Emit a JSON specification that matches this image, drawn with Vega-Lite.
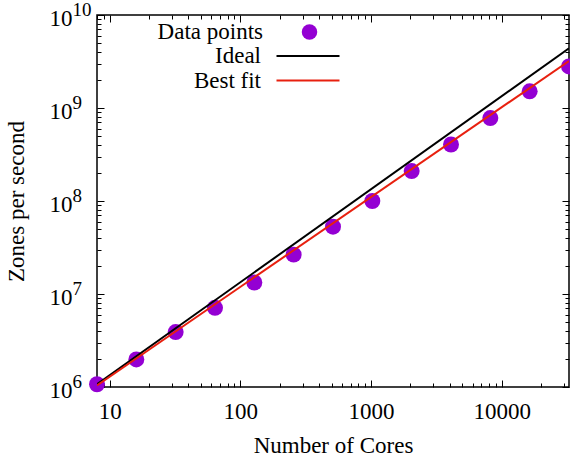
{
  "$schema": "https://vega.github.io/schema/vega-lite/v6.json",
  "width": 472,
  "height": 372,
  "autosize": {"type": "none"},
  "padding": {"left": 97, "top": 15, "right": 1, "bottom": 77},
  "background": "white",
  "config": {
    "font": "Liberation Serif",
    "view": {"stroke": "black", "strokeWidth": 1.5},
    "axis": {
      "grid": false,
      "domain": false,
      "tickColor": "black",
      "tickWidth": 1,
      "labelColor": "black",
      "labelFont": "Liberation Serif",
      "labelFontSize": 23,
      "titleFont": "Liberation Serif",
      "titleFontSize": 23,
      "titleFontWeight": "normal",
      "titleColor": "black",
      "labelOverlap": false,
      "labelBound": false,
      "labelFlush": false
    },
    "legend": {
      "labelFont": "Liberation Serif",
      "labelFontSize": 23,
      "labelColor": "black"
    }
  },
  "datasets": {
    "points": [
      {"cores": 8, "zps": 1.07e6, "series": "Data points"},
      {"cores": 16, "zps": 1.98e6, "series": "Data points"},
      {"cores": 32, "zps": 3.9e6, "series": "Data points"},
      {"cores": 64, "zps": 7.1e6, "series": "Data points"},
      {"cores": 128, "zps": 1.33e7, "series": "Data points"},
      {"cores": 256, "zps": 2.65e7, "series": "Data points"},
      {"cores": 512, "zps": 5.3e7, "series": "Data points"},
      {"cores": 1024, "zps": 1.0e8, "series": "Data points"},
      {"cores": 2048, "zps": 2.1e8, "series": "Data points"},
      {"cores": 4096, "zps": 4.05e8, "series": "Data points"},
      {"cores": 8192, "zps": 7.8e8, "series": "Data points"},
      {"cores": 16384, "zps": 1.51e9, "series": "Data points"},
      {"cores": 32768, "zps": 2.8e9, "series": "Data points"}
    ],
    "lines": [
      {"series": "Ideal", "cores": 8, "zps": 1.07e6},
      {"series": "Ideal", "cores": 32768, "zps": 4.38e9},
      {"series": "Best fit", "cores": 8, "zps": 1.04e6},
      {"series": "Best fit", "cores": 32768, "zps": 3.2e9}
    ]
  },
  "layer": [
    {
      "data": {"name": "points"},
      "mark": {"type": "circle", "size": 255, "opacity": 1},
      "encoding": {
        "x": {
          "field": "cores", "type": "quantitative",
          "scale": {"type": "log", "domain": [8, 32768], "nice": false},
          "axis": {
            "orient": "bottom",
            "title": "Number of Cores",
            "titleX": 236, "titleY": 58, "titleBaseline": "middle", "titleAlign": "center",
            "values": [8, 9, 10, 20, 30, 40, 50, 60, 70, 80, 90, 100, 200, 300, 400, 500, 600, 700, 800, 900, 1000, 2000, 3000, 4000, 5000, 6000, 7000, 8000, 9000, 10000, 20000, 30000],
            "labelExpr": "indexof([10, 100, 1000, 10000], datum.value) >= 0 ? format(datum.value, 'd') : ''",
            "tickSize": {"condition": {"test": "indexof([10, 100, 1000, 10000], datum.value) >= 0", "value": -7}, "value": -4},
            "labelPadding": 20
          }
        },
        "y": {
          "field": "zps", "type": "quantitative",
          "scale": {"type": "log", "domain": [1e6, 1e10], "nice": false},
          "axis": {
            "orient": "left",
            "title": "Zones per second",
            "titleX": -81, "titleY": 186, "titleAngle": -90, "titleBaseline": "middle", "titleAlign": "center",
            "values": [1e6, 2e6, 3e6, 4e6, 5e6, 6e6, 7e6, 8e6, 9e6, 1e7, 2e7, 3e7, 4e7, 5e7, 6e7, 7e7, 8e7, 9e7, 1e8, 2e8, 3e8, 4e8, 5e8, 6e8, 7e8, 8e8, 9e8, 1e9, 2e9, 3e9, 4e9, 5e9, 6e9, 7e9, 8e9, 9e9, 1e10],
            "labelExpr": "indexof([1e6, 1e7, 1e8, 1e9, 1e10], datum.value) >= 0 ? '10' : ''",
            "labelAlign": "right",
            "labelBaseline": "middle",
            "labelOffset": 3,
            "tickSize": {"condition": {"test": "indexof([1e6, 1e7, 1e8, 1e9, 1e10], datum.value) >= 0", "value": -7}, "value": -4},
            "labelPadding": 32
          }
        },
        "color": {
          "field": "series", "type": "nominal",
          "scale": {"domain": ["Data points"], "range": ["#9400d3"]},
          "legend": {
            "title": null,
            "orient": "none",
            "legendX": 201,
            "legendY": 5.5,
            "padding": 0,
            "labelAlign": "right",
            "labelOffset": -58,
            "symbolType": "circle",
            "symbolSize": 240,
            "symbolStrokeWidth": 0,
            "symbolOpacity": 1
          }
        }
      }
    },
    {
      "data": {"name": "lines"},
      "mark": {"type": "line", "strokeWidth": 2, "clip": true},
      "encoding": {
        "x": {
          "field": "cores", "type": "quantitative",
          "scale": {"type": "log", "domain": [8, 32768], "nice": false},
          "axis": {
            "orient": "top",
            "title": null,
            "labels": false,
            "values": [8, 9, 10, 20, 30, 40, 50, 60, 70, 80, 90, 100, 200, 300, 400, 500, 600, 700, 800, 900, 1000, 2000, 3000, 4000, 5000, 6000, 7000, 8000, 9000, 10000, 20000, 30000],
            "tickSize": {"condition": {"test": "indexof([10, 100, 1000, 10000], datum.value) >= 0", "value": -7}, "value": -4}
          }
        },
        "y": {
          "field": "zps", "type": "quantitative",
          "scale": {"type": "log", "domain": [1e6, 1e10], "nice": false},
          "axis": {
            "orient": "right",
            "title": null,
            "labels": false,
            "values": [1e6, 2e6, 3e6, 4e6, 5e6, 6e6, 7e6, 8e6, 9e6, 1e7, 2e7, 3e7, 4e7, 5e7, 6e7, 7e7, 8e7, 9e7, 1e8, 2e8, 3e8, 4e8, 5e8, 6e8, 7e8, 8e8, 9e8, 1e9, 2e9, 3e9, 4e9, 5e9, 6e9, 7e9, 8e9, 9e9, 1e10],
            "tickSize": {"condition": {"test": "indexof([1e6, 1e7, 1e8, 1e9, 1e10], datum.value) >= 0", "value": -7}, "value": -4}
          }
        },
        "stroke": {
          "field": "series", "type": "nominal",
          "scale": {"domain": ["Ideal", "Best fit"], "range": ["#000000", "#e8200f"]},
          "legend": {
            "title": null,
            "orient": "none",
            "legendX": 199.5,
            "legendY": 29.5,
            "padding": 0,
            "labelAlign": "right",
            "labelOffset": -58.5,
            "symbolType": "M-3,0H3",
            "symbolSize": 441,
            "symbolStrokeWidth": 2,
            "symbolFillColor": "transparent",
            "rowPadding": 0.5
          }
        }
      }
    },
    {
      "data": {"name": "points"},
      "mark": {"type": "point", "opacity": 0},
      "encoding": {
        "x": {
          "field": "cores", "type": "quantitative",
          "scale": {"type": "log", "domain": [8, 32768], "nice": false},
          "axis": null
        },
        "y": {
          "field": "zps", "type": "quantitative",
          "scale": {"type": "log", "domain": [1e6, 1e10], "nice": false},
          "axis": {
            "orient": "left",
            "title": null,
            "ticks": false,
            "domain": false,
            "values": [1e6, 1e7, 1e8, 1e9, 1e10],
            "labelExpr": "datum.value == 1e6 ? '6' : datum.value == 1e7 ? '7' : datum.value == 1e8 ? '8' : datum.value == 1e9 ? '9' : '10'",
            "labelFontSize": 19,
            "labelAlign": "left",
            "labelBaseline": "middle",
            "labelOffset": -6,
            "labelPadding": 25
          }
        }
      }
    }
  ],
  "resolve": {"axis": {"x": "independent", "y": "independent"}}
}
